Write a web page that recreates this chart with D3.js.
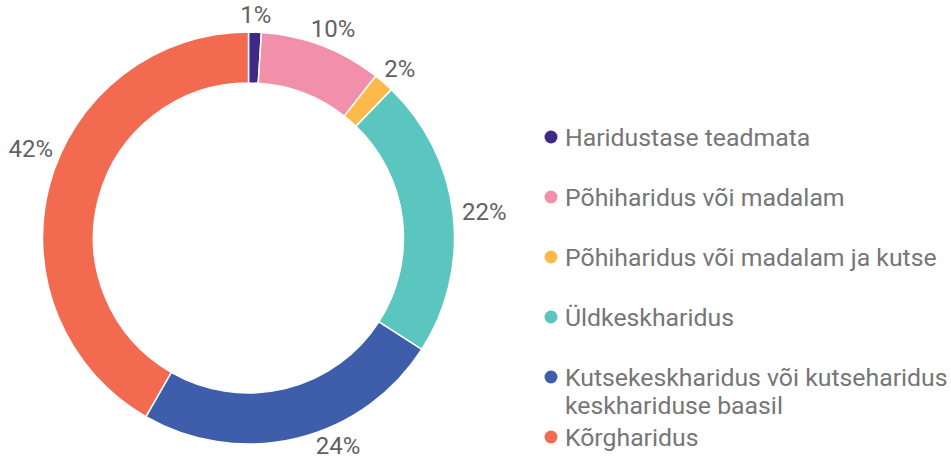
<!DOCTYPE html>
<html lang="et">
<head>
<meta charset="UTF-8">
<title>Haridustase</title>
<script src="https://cdn.jsdelivr.net/npm/d3@7"></script>
<style>
body { margin: 0; background: #fff; }
svg { display: block; font-family: Roboto, sans-serif; }
</style>
</head>
<body>
<svg width="951" height="458"></svg>
<script>
// andmed
var categories = ['Haridustase teadmata', 'Põhiharidus või madalam', 'Põhiharidus või madalam ja kutse',
    'Üldkeskharidus', 'Kutsekeskharidus või kutseharidus keskhariduse baasil', 'Kõrgharidus'];
var legendLines = [['Haridustase teadmata'], ['Põhiharidus või madalam'], ['Põhiharidus või madalam ja kutse'],
    ['Üldkeskharidus'], ['Kutsekeskharidus või kutseharidus', 'keskhariduse baasil'], ['Kõrgharidus']];
var values = [1.0, 9.6, 1.6, 21.9, 24.2, 41.7];
var labels = ['1%', '10%', '2%', '22%', '24%', '42%'];
var colors = ['#3e2a84', '#f28fab', '#fdba4b', '#5bc5c0', '#3e5dab', '#f26a50'];

var W = 951, H = 458;
var svg = d3.select('svg');
var cx = 248.5, cy = 238, outerR = 206, innerR = 155;

var pie = d3.pie().sort(null).value(function(d) { return d; });
var arcs = pie(values);
var arc = d3.arc().innerRadius(innerR).outerRadius(outerR);

var g = svg.append('g').attr('transform', 'translate(' + cx + ',' + cy + ')');

g.selectAll('path')
    .data(arcs)
    .enter()
    .append('path')
    .attr('d', arc)
    .attr('fill', function(d, i) { return colors[i]; })
    .attr('stroke', '#fff')
    .attr('stroke-width', 1.5);

// labels: anchor at r=labelR, text pushed outward by half its size,
// slid along the circle while it would leave the picture
var labelR = 215, margin = 8;
var lab = g.selectAll('text')
    .data(arcs)
    .enter()
    .append('text')
    .attr('text-anchor', 'middle')
    .attr('dy', '0.35em')
    .attr('font-size', 24)
    .attr('fill', '#616161')
    .text(function(d, i) { return labels[i]; });

lab.each(function(d) {
    var hw = this.getBBox().width / 2, hh = 9;
    var a = (d.startAngle + d.endAngle) / 2;
    function pos(a) {
        var s = Math.sin(a), c = Math.cos(a);
        return [labelR * s + hw * s, -labelR * c - hh * c];
    }
    var p = pos(a), step = Math.PI / 360;
    for (var k = 0; k < 200; k++) {
        var s = Math.sin(a), c = Math.cos(a);
        var outY = cy + p[1] + 12 > H || cy + p[1] - 12 < 0;
        var outX = cx + p[0] - hw < margin || cx + p[0] + hw > W - margin;
        if (outY) a += (s > 0) === (c < 0) ? -step : step;      // away from top/bottom
        else if (outX) a += (c > 0) === (s > 0) ? -step : step; // away from left/right
        else break;
        p = pos(a);
    }
    d3.select(this).attr('transform', 'translate(' + p + ')');
});

// legend
var y = d3.scalePoint().domain(d3.range(categories.length)).range([137, 437]);
var item = svg.append('g').selectAll('g')
    .data(categories)
    .enter()
    .append('g')
    .attr('transform', function(d, i) { return 'translate(551,' + y(i) + ')'; });

item.append('circle')
    .attr('r', 6.5)
    .attr('fill', function(d, i) { return colors[i]; });

item.append('text')
    .attr('font-size', 24.8)
    .attr('fill', '#767676')
    .selectAll('tspan')
    .data(function(d, i) { return legendLines[i]; })
    .enter()
    .append('tspan')
    .attr('x', 14)
    .attr('dy', function(d, j) { return j === 0 ? '0.36em' : 28; })
    .text(function(d) { return d; });
</script>
</body>
</html>
